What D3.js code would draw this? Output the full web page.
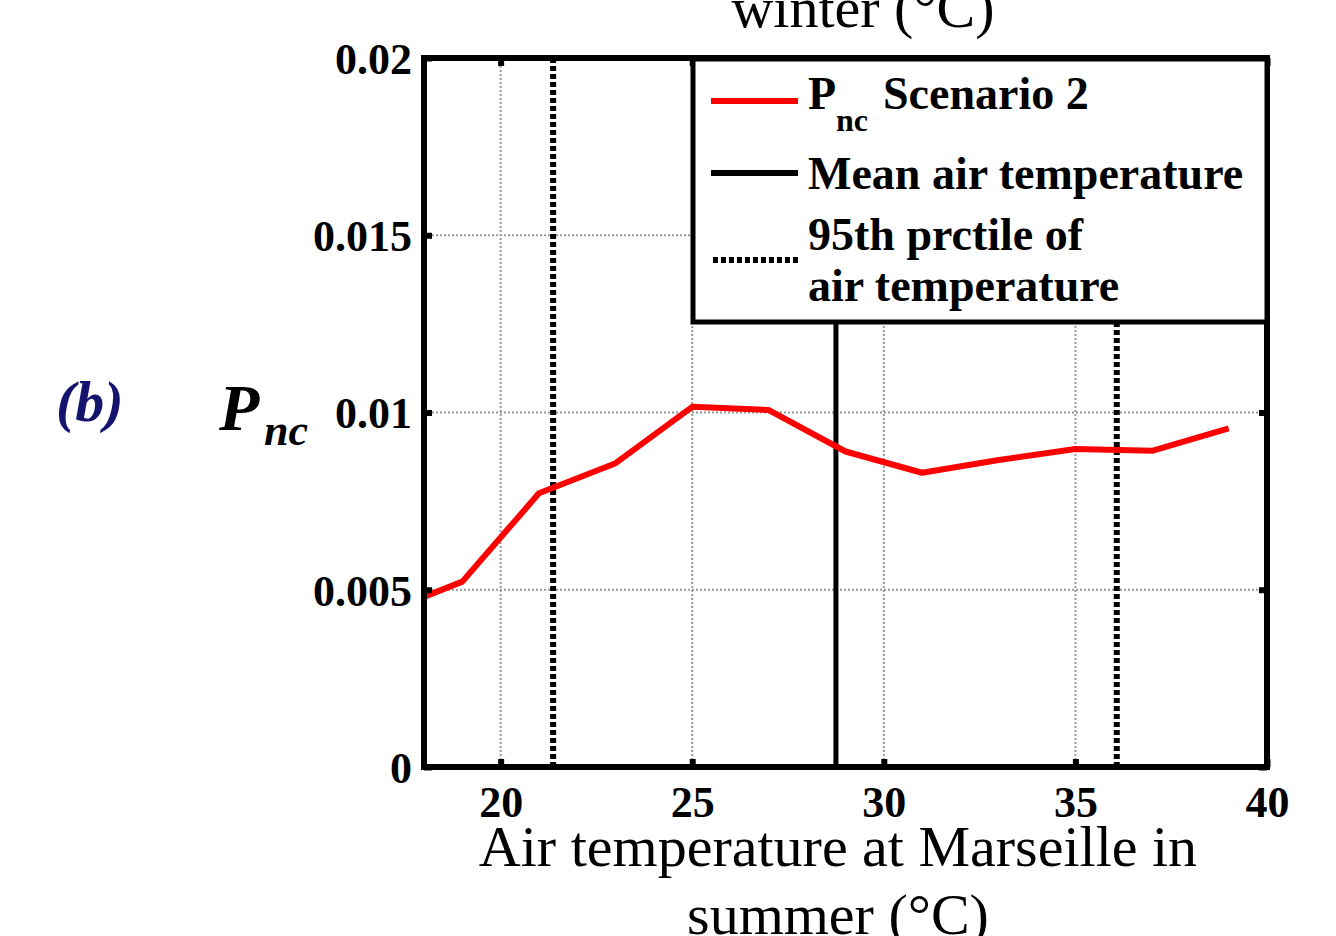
<!DOCTYPE html>
<html><head><meta charset="utf-8">
<script src="https://cdn.jsdelivr.net/npm/d3@7/dist/d3.min.js"></script>
<style>body{margin:0;background:#fff}svg{display:block}</style>
</head><body><svg id="c" width="1336" height="936"></svg>
<script>
const temps = [18, 19, 21, 23, 25, 27, 29, 31, 33, 35, 37, 39];
const pnc   = [0.0048, 0.00523, 0.00772, 0.00857, 0.01016, 0.01007, 0.0089, 0.0083, 0.00866, 0.00897, 0.00892, 0.00955];
const meanTemp = 28.75;
const prctileTemps = [21.37, 36.08];
const xTicks = [20, 25, 30, 35, 40];
const yTicks = [0, 0.005, 0.01, 0.015, 0.02];
const yTickLabels = ["0", "0.005", "0.01", "0.015", "0.02"];
const legendLabels = ["Scenario 2", "Mean air temperature", "95th prctile of", "air temperature"];

const svg = d3.select("#c");
const L = 424, R = 1267, T = 58, B = 767;
const x = d3.scaleLinear().domain([18, 40]).range([L, R]);
const y = d3.scaleLinear().domain([0, 0.02]).range([B, T]);
const serif = "'Liberation Serif','Times New Roman',serif";

// grid
const g = svg.append("g");
g.selectAll(".gx").data(xTicks.filter(d => d < 40)).join("line")
  .attr("x1", d => x(d)).attr("x2", d => x(d)).attr("y1", T).attr("y2", B)
  .attr("stroke", "#9a9a9a").attr("stroke-width", 2).attr("stroke-dasharray", "2,2");
g.selectAll(".gy").data(yTicks.filter(d => d > 0 && d < 0.02)).join("line")
  .attr("y1", d => y(d)).attr("y2", d => y(d)).attr("x1", L).attr("x2", R)
  .attr("stroke", "#9a9a9a").attr("stroke-width", 2).attr("stroke-dasharray", "2,2");

// vertical reference lines
svg.selectAll(".pl").data(prctileTemps).join("line")
  .attr("x1", d => x(d)).attr("x2", d => x(d)).attr("y1", T).attr("y2", B)
  .attr("stroke", "#000").attr("stroke-width", 6).attr("stroke-dasharray", "5,3");
svg.append("line").attr("x1", x(meanTemp)).attr("x2", x(meanTemp)).attr("y1", T).attr("y2", B)
  .attr("stroke", "#000").attr("stroke-width", 5);

// data line
svg.append("path").datum(temps.map((t, i) => [t, pnc[i]]))
  .attr("d", d3.line().x(d => x(d[0])).y(d => y(d[1])))
  .attr("fill", "none").attr("stroke", "#ff0000").attr("stroke-width", 6).attr("stroke-linejoin", "round");

// axes with inward ticks
const ax = d3.axisBottom(x).tickValues(xTicks).tickSizeInner(-8).tickSizeOuter(0).tickPadding(20).tickFormat(d3.format("d"));
const axG = svg.append("g").attr("transform", `translate(0,${B})`).call(ax);
const ay = d3.axisLeft(y).tickValues(yTicks).tickSizeInner(-8).tickSizeOuter(0).tickPadding(12).tickFormat((d, i) => yTickLabels[i]);
const ayG = svg.append("g").attr("transform", `translate(${L},0)`).call(ay);
const axT = svg.append("g").attr("transform", `translate(0,${T})`).call(d3.axisTop(x).tickValues(xTicks).tickSizeInner(-8).tickSizeOuter(0).tickFormat(""));
const ayR = svg.append("g").attr("transform", `translate(${R},0)`).call(d3.axisRight(y).tickValues(yTicks).tickSizeInner(-8).tickSizeOuter(0).tickFormat(""));
[axG, ayG, axT, ayR].forEach(a => {
  a.select(".domain").remove();
  a.selectAll(".tick line").attr("stroke", "#000").attr("stroke-width", 6);
  a.selectAll("text").attr("font-family", serif).attr("font-weight", "bold").attr("font-size", 44).attr("fill", "#000");
});
axG.selectAll("text").attr("dy", "0.68em");
ayG.selectAll("text").attr("dy", "0.35em");

// frame
svg.append("rect").attr("x", L).attr("y", T).attr("width", R - L).attr("height", B - T)
  .attr("fill", "none").attr("stroke", "#000").attr("stroke-width", 6);

// legend
const lg = svg.append("g");
lg.append("rect").attr("x", 693).attr("y", 59).attr("width", 574).attr("height", 263)
  .attr("fill", "#fff").attr("stroke", "#000").attr("stroke-width", 5);
lg.append("line").attr("x1", 711).attr("x2", 798).attr("y1", 101).attr("y2", 101).attr("stroke", "#ff0000").attr("stroke-width", 6);
lg.append("line").attr("x1", 711).attr("x2", 798).attr("y1", 173).attr("y2", 173).attr("stroke", "#000").attr("stroke-width", 6);
lg.append("line").attr("x1", 713).attr("x2", 798).attr("y1", 260).attr("y2", 260).attr("stroke", "#000").attr("stroke-width", 6).attr("stroke-dasharray", "5,3");
const lt = (txt, xx, yy, size) => lg.append("text").attr("x", xx).attr("y", yy).attr("font-family", serif)
  .attr("font-weight", "bold").attr("font-size", size).attr("fill", "#000").text(txt);
lt("P", 808, 109, 46);
lt("nc", 836, 131, 32);
lt(legendLabels[0], 883, 109, 46);
lt(legendLabels[1], 808, 189, 46);
lt(legendLabels[2], 808, 250, 46);
lt(legendLabels[3], 808, 301, 46);

// axis titles
const title = (txt, cx, by) => svg.append("text").attr("x", cx).attr("y", by).attr("text-anchor", "middle")
  .attr("font-family", serif).attr("font-size", 58).attr("fill", "#000").text(txt);
title("winter (°C)", 863, 27);
title("Air temperature at Marseille in", 838, 866);
title("summer (°C)", 838, 934);

// y label
svg.append("text").attr("x", 219).attr("y", 430).attr("font-family", serif).attr("font-weight", "bold")
  .attr("font-style", "italic").attr("font-size", 66).attr("fill", "#000").text("P");
svg.append("text").attr("x", 264).attr("y", 445).attr("font-family", serif).attr("font-weight", "bold")
  .attr("font-style", "italic").attr("font-size", 44).attr("fill", "#000").text("nc");
svg.append("text").attr("x", 56).attr("y", 421).attr("font-family", serif).attr("font-weight", "bold")
  .attr("font-style", "italic").attr("font-size", 58).attr("fill", "#14146e").text("(b)");
</script></body></html>
